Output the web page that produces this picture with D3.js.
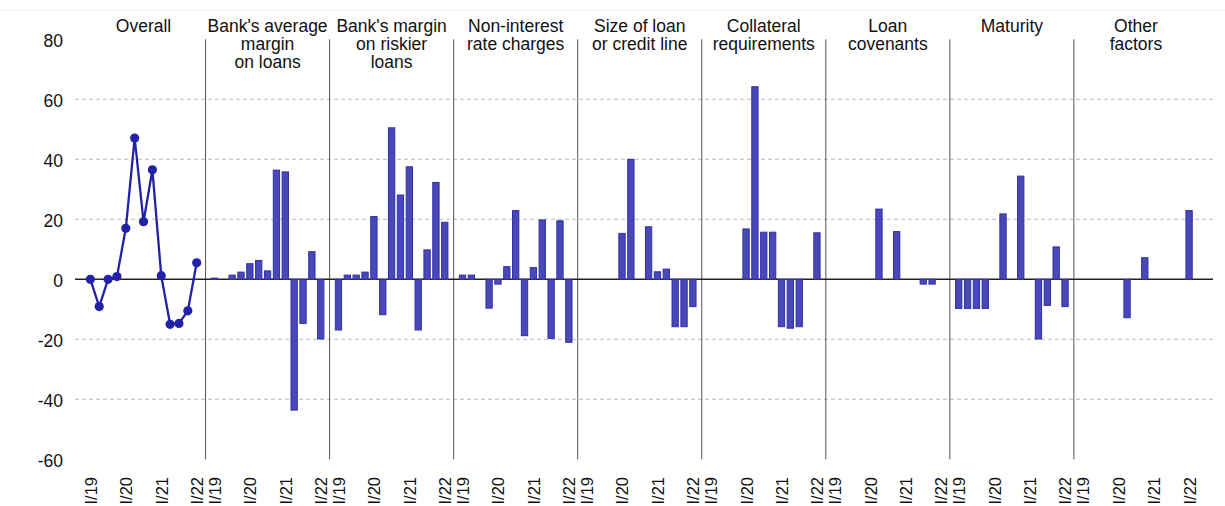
<!DOCTYPE html>
<html>
<head>
<meta charset="utf-8">
<script src="https://cdn.jsdelivr.net/npm/d3@7"></script>
<style>
  html, body { margin: 0; padding: 0; background: #fff; }
  svg { display: block; }
  text { font-family: "Liberation Sans", Arial, sans-serif; fill: #111; }
</style>
</head>
<body>
<svg id="chart" width="1225" height="506"></svg>
<script>
// ---- data ----
const quarters = ["I/19","II/19","III/19","IV/19","I/20","II/20","III/20","IV/20","I/21","II/21","III/21","IV/21","I/22"];
const tickQuarters = ["I/19","I/20","I/21","I/22"];
const yTicks = [80, 60, 40, 20, 0, -20, -40, -60];
const gridTicks = [60, 40, 20, -20, -40];

const panelTitles = [
  ["Overall"],
  ["Bank's average", "margin", "on loans"],
  ["Bank's margin", "on riskier", "loans"],
  ["Non-interest", "rate charges"],
  ["Size of loan", "or credit line"],
  ["Collateral", "requirements"],
  ["Loan", "covenants"],
  ["Maturity"],
  ["Other", "factors"]
];

const overall       = [0, -9.1, 0, 0.9, 17.0, 47.1, 19.2, 36.5, 1.2, -15.0, -14.7, -10.5, 5.5];
const avgMargin     = [0.4, 0, 1.4, 2.4, 5.2, 6.3, 2.8, 36.4, 35.8, -43.6, -14.7, 9.2, -19.9];
const riskierMargin = [-16.9, 1.4, 1.4, 2.4, 20.9, -11.8, 50.5, 28.1, 37.5, -16.9, 9.8, 32.3, 19.0];
const nonInterest   = [1.4, 1.4, 0, -9.6, -1.6, 4.2, 22.9, -18.8, 3.9, 19.8, -19.7, 19.5, -21.0];
const loanSize      = [0, 0, 0, 0, 15.3, 40.0, 0, 17.5, 2.5, 3.4, -15.8, -15.8, -9.1];
const collateral    = [0, 0, 0, 0, 16.8, 64.2, 15.7, 15.7, -15.8, -16.3, -15.8, 0, 15.5];
const covenants     = [0, 0, 0, 0, 0, 23.4, 0, 15.9, 0, 0, -1.6, -1.6, 0];
const maturity      = [-9.7, -9.7, -9.7, -9.7, 0, 21.8, 0, 34.4, 0, -19.9, -8.7, 10.8, -9.1];
const otherFactors  = [0, 0, 0, 0, 0, -12.8, 0, 7.2, 0, 0, 0, 0, 22.9];

const barSeries = [avgMargin, riskierMargin, nonInterest, loanSize, collateral, covenants, maturity, otherFactors];

// ---- layout ----
const svg = d3.select("#chart");
const plotLeft = 81.5, panelW = 124.05, nPanels = panelTitles.length;
const gridLeft = 75, gridRight = 1213;
const FONT = "Liberation Sans, Arial, sans-serif";

const y = d3.scaleLinear().domain([-60, 80]).range([459.3, 39.3]);
const panelX = d3.scaleBand().domain(d3.range(nPanels)).range([plotLeft, plotLeft + panelW * nPanels]).padding(0);
const x = d3.scalePoint().domain(quarters).range([0, panelW]).padding(1);

const lineColor = "#2222a8";
const barFill = "#4848b8";
const barStroke = "#3030a6";

// faint top border
svg.append("line").attr("x1", 0).attr("x2", 1225).attr("y1", 10.5).attr("y2", 10.5)
  .attr("stroke", "#f0f0f0").attr("stroke-width", 1);

// grid lines
svg.append("g").selectAll("line").data(gridTicks).join("line")
  .attr("x1", gridLeft).attr("x2", gridRight)
  .attr("y1", d => y(d)).attr("y2", d => y(d))
  .attr("stroke", "#c8c8c8").attr("stroke-width", 1.2).attr("stroke-dasharray", "4,3");

// y axis labels
const yAxis = d3.axisLeft(y).tickValues(yTicks).tickSize(0).tickPadding(0).tickFormat(d => String(d));
const yg = svg.append("g").attr("transform", `translate(63,0)`).call(yAxis);
yg.attr("font-family", FONT).attr("font-size", 17.5);
yg.select(".domain").remove();
yg.selectAll("text").attr("fill", "#111").attr("dy", "0.4em");

// panel dividers
svg.append("g").selectAll("line").data(d3.range(1, nPanels)).join("line")
  .attr("x1", d => panelX(d)).attr("x2", d => panelX(d))
  .attr("y1", y(80)).attr("y2", y(-60))
  .attr("stroke", "#555").attr("stroke-width", 1);

// zero line
svg.append("line").attr("x1", gridLeft).attr("x2", gridRight)
  .attr("y1", y(0)).attr("y2", y(0)).attr("stroke", "#222").attr("stroke-width", 1.6);

// panels
const barW = 7.3;
panelTitles.forEach((title, i) => {
  const g = svg.append("g").attr("transform", `translate(${panelX(i)},0)`);

  // title
  const t = g.append("text").attr("x", panelW / 2).attr("y", 32.3)
    .attr("text-anchor", "middle").attr("font-size", 17.5).attr("font-family", FONT);
  title.forEach((line, k) => {
    t.append("tspan").attr("x", panelW / 2).attr("dy", k === 0 ? 0 : 18).text(line);
  });

  // x tick labels
  const xAxis = d3.axisBottom(x).tickValues(tickQuarters).tickSize(0).tickPadding(0);
  const xg = g.append("g").attr("transform", `translate(0,477)`).call(xAxis);
  xg.attr("font-family", FONT).attr("font-size", 16.5);
  xg.select(".domain").remove();
  xg.selectAll("text")
    .attr("fill", "#111")
    .attr("transform", "rotate(-90)")
    .attr("text-anchor", "end").attr("x", 0).attr("y", 0).attr("dy", "0.36em");

  if (i === 0) {
    const data = quarters.map((q, k) => ({ q, v: overall[k] }));
    g.append("path").datum(data)
      .attr("fill", "none").attr("stroke", lineColor).attr("stroke-width", 2.3)
      .attr("stroke-linejoin", "round")
      .attr("d", d3.line().x(d => x(d.q)).y(d => y(d.v)));
    g.selectAll("circle").data(data).join("circle")
      .attr("cx", d => x(d.q)).attr("cy", d => y(d.v)).attr("r", 4.6)
      .attr("fill", lineColor);
  } else {
    const vals = barSeries[i - 1];
    const data = quarters.map((q, k) => ({ q, v: vals[k] })).filter(d => d.v !== 0);
    g.selectAll("rect").data(data).join("rect")
      .attr("x", d => x(d.q) - barW / 2 + 0.5)
      .attr("width", barW - 1)
      .attr("y", d => Math.min(y(d.v), y(0)))
      .attr("height", d => Math.abs(y(d.v) - y(0)))
      .attr("fill", barFill).attr("stroke", barStroke).attr("stroke-width", 1);
  }
});
</script>
</body>
</html>
